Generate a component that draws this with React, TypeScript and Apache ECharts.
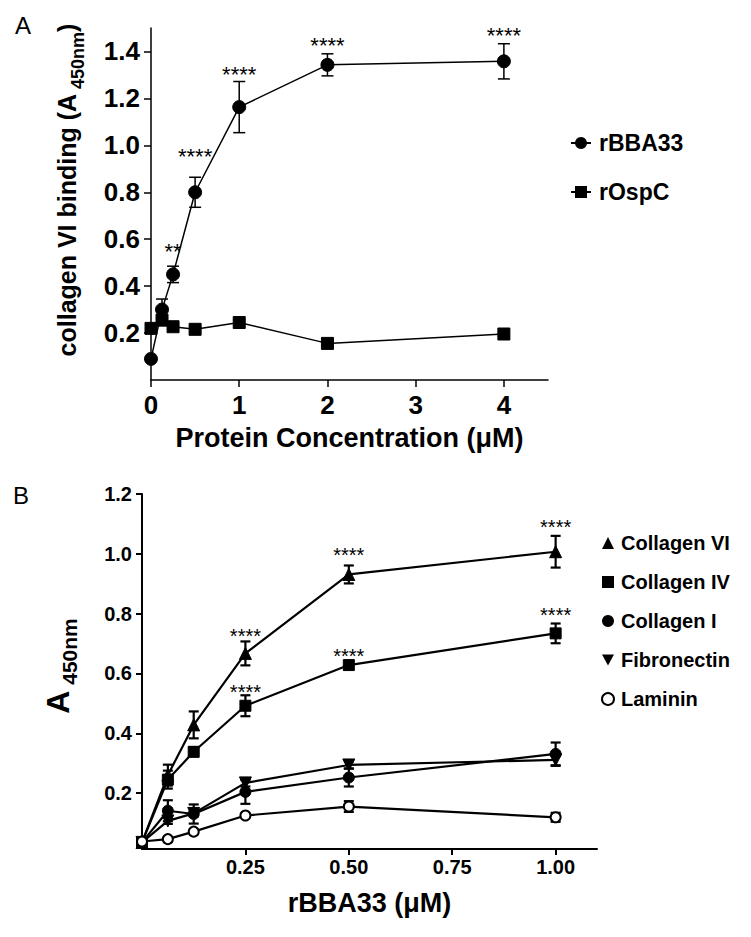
import React, { useEffect, useRef } from 'react';
import * as echarts from 'echarts';

// ---------- Panel A data ----------
const concA = [0, 0.125, 0.25, 0.5, 1, 2, 4];
const bba33 = [0.09, 0.30, 0.45, 0.80, 1.163, 1.343, 1.358];
const bba33Err = [0.005, 0.045, 0.035, 0.064, 0.109, 0.047, 0.075];
const ospC = [0.22, 0.255, 0.227, 0.216, 0.245, 0.156, 0.196];
const ospCErr = [0.01, 0.01, 0.01, 0.01, 0.012, 0.01, 0.01];
const starsAX = [0.25, 0.5, 1, 2, 4];
const starsAY = [0.567, 0.971, 1.322, 1.444, 1.487];
const starsAText = ['**', '****', '****', '****', '****'];
const ticksAX = [0, 1, 2, 3, 4];
const ticksAY = [0.2, 0.4, 0.6, 0.8, 1.0, 1.2, 1.4];

// ---------- Panel B data ----------
const concB = [0, 0.0625, 0.125, 0.25, 0.5, 1];
const col6 = [0.035, 0.26, 0.428, 0.667, 0.931, 1.007];
const col6Err = [0.005, 0.035, 0.045, 0.04, 0.03, 0.053];
const col4 = [0.035, 0.245, 0.338, 0.492, 0.628, 0.734];
const col4Err = [0.005, 0.03, 0.015, 0.035, 0.012, 0.033];
const col1 = [0.035, 0.141, 0.13, 0.204, 0.252, 0.331];
const col1Err = [0.005, 0.035, 0.032, 0.04, 0.03, 0.038];
const fibro = [0.035, 0.107, 0.132, 0.234, 0.294, 0.311];
const fibroErr = [0.005, 0.01, 0.01, 0.012, 0.012, 0.02];
const lamin = [0.038, 0.046, 0.071, 0.125, 0.155, 0.119];
const laminErr = [0.003, 0.005, 0.005, 0.006, 0.018, 0.015];
const starsBX = [0.25, 0.25, 0.5, 0.5, 1, 1];
const starsBY = [0.74, 0.554, 1.01, 0.673, 1.104, 0.809];
const starsBText = ['****', '****', '****', '****', '****', '****'];
const ticksBX = [0.25, 0.5, 0.75, 1.0];
const ticksBY = [0.2, 0.4, 0.6, 0.8, 1.0, 1.2];

const F = '"Liberation Sans", Arial, Helvetica, sans-serif';
const K = '#000';

function errSeries(xs: number[], ys: number[], es: number[], idx: number, cap: number, lw: number) {
  return {
    type: 'custom',
    xAxisIndex: idx,
    yAxisIndex: idx,
    z: 1,
    silent: true,
    data: xs.map((x, i) => [x, ys[i] - es[i], ys[i] + es[i]]),
    renderItem: (params: any, api: any) => {
      const x = api.value(0);
      const lo = api.coord([x, api.value(1)]);
      const hi = api.coord([x, api.value(2)]);
      const st = { stroke: K, lineWidth: lw };
      return {
        type: 'group',
        children: [
          { type: 'line', shape: { x1: lo[0], y1: lo[1], x2: hi[0], y2: hi[1] }, style: st },
          { type: 'line', shape: { x1: hi[0] - cap, y1: hi[1], x2: hi[0] + cap, y2: hi[1] }, style: st },
          { type: 'line', shape: { x1: lo[0] - cap, y1: lo[1], x2: lo[0] + cap, y2: lo[1] }, style: st },
        ],
      };
    },
  };
}

function starSeries(xs: number[], ys: number[], texts: string[], idx: number, fs: number) {
  return {
    type: 'custom',
    xAxisIndex: idx,
    yAxisIndex: idx,
    z: 3,
    silent: true,
    data: xs.map((x, i) => [x, ys[i]]),
    renderItem: (params: any, api: any) => {
      const p = api.coord([api.value(0), api.value(1)]);
      return {
        type: 'text',
        x: p[0],
        y: p[1] + fs * 0.22,
        style: {
          text: texts[params.dataIndex],
          fontSize: fs,
          fontFamily: F,
          fill: K,
          align: 'center',
          verticalAlign: 'middle',
        },
      };
    },
  };
}

function lineSeries(name: string, xs: number[], ys: number[], idx: number, symbol: string, size: number, lw: number, extra: any = {}) {
  return {
    type: 'line',
    name,
    xAxisIndex: idx,
    yAxisIndex: idx,
    z: 2,
    data: xs.map((x, i) => [x, ys[i]]),
    symbol,
    symbolSize: size,
    showAllSymbol: true,
    lineStyle: { color: K, width: lw },
    itemStyle: { color: K, borderColor: K },
    emphasis: { disabled: true },
    ...extra,
  };
}

export default function App() {
  const ref = useRef<HTMLDivElement>(null);

  useEffect(() => {
    if (!ref.current) return;
    const chart = echarts.init(ref.current, undefined, { renderer: 'svg' });

    const axisLineA = { show: true, lineStyle: { color: K, width: 1.5 } };
    const axisLineB = { show: true, lineStyle: { color: K, width: 2 } };

    const option: any = {
      animation: false,
      backgroundColor: '#fff',
      title: [
        { text: 'A', left: 10, top: 8, textStyle: { fontSize: 24, fontWeight: 'normal', fontFamily: F, color: K } },
        { text: 'B', left: 8, top: 478, textStyle: { fontSize: 24, fontWeight: 'normal', fontFamily: F, color: K } },
      ],
      grid: [
        { left: 151, top: 28, width: 397, height: 352 },
        { left: 142, top: 494, width: 455, height: 355 },
      ],
      legend: [
        {
          data: ['rBBA33', 'rOspC'],
          orient: 'vertical',
          left: 565,
          top: 126,
          itemWidth: 20,
          itemHeight: 15,
          itemGap: 25,
          selectedMode: false,
          textStyle: { fontSize: 23, fontWeight: 'bold', fontFamily: F, color: K, lineHeight: 24, padding: [0, 0, 0, 3] },
        },
        {
          data: [
            { name: 'Collagen VI', icon: 'triangle' },
            { name: 'Collagen IV', icon: 'rect' },
            { name: 'Collagen I', icon: 'circle' },
            { name: 'Fibronectin', icon: 'path://M0,0L10,0L5,9Z' },
            { name: 'Laminin', icon: 'emptyCircle' },
          ],
          orient: 'vertical',
          left: 596,
          top: 527,
          itemWidth: 12,
          itemHeight: 12,
          itemGap: 17,
          selectedMode: false,
          textStyle: { fontSize: 20, fontWeight: 'bold', fontFamily: F, color: K, lineHeight: 22, padding: [0, 0, 0, 2] },
        },
      ],
      xAxis: [
        {
          type: 'value',
          gridIndex: 0,
          min: 0,
          max: 4.5,
          axisLine: axisLineA,
          axisTick: { show: true, customValues: ticksAX, length: 7, lineStyle: { color: K, width: 1.5 } },
          axisLabel: { customValues: ticksAX, margin: 12, fontSize: 26, fontWeight: 'bold', fontFamily: F, color: K },
          splitLine: { show: false },
          name: 'Protein Concentration (μM)',
          nameLocation: 'middle',
          nameGap: 44,
          nameTextStyle: { fontSize: 27, fontWeight: 'bold', fontFamily: F, color: K },
        },
        {
          type: 'value',
          gridIndex: 1,
          min: 0,
          max: 1.1,
          axisLine: axisLineB,
          axisTick: { show: true, customValues: ticksBX, length: 6, lineStyle: { color: K, width: 2 } },
          axisLabel: {
            customValues: ticksBX,
            margin: 8,
            fontSize: 20,
            fontWeight: 'bold',
            fontFamily: F,
            color: K,
            formatter: (v: number) => v.toFixed(2),
          },
          splitLine: { show: false },
          name: 'rBBA33 (μM)',
          nameLocation: 'middle',
          nameGap: 40,
          nameTextStyle: { fontSize: 27, fontWeight: 'bold', fontFamily: F, color: K },
        },
      ],
      yAxis: [
        {
          type: 'value',
          gridIndex: 0,
          min: 0,
          max: 1.5,
          axisLine: axisLineA,
          axisTick: { show: true, customValues: ticksAY, length: 7, lineStyle: { color: K, width: 1.5 } },
          axisLabel: {
            customValues: ticksAY,
            margin: 11,
            fontSize: 26,
            fontWeight: 'bold',
            fontFamily: F,
            color: K,
            formatter: (v: number) => v.toFixed(1),
          },
          splitLine: { show: false },
          name: '{m|collagen VI binding (A}{s| 450nm}{m|)}',
          nameLocation: 'middle',
          nameRotate: 90,
          nameGap: 64,
          nameTextStyle: {
            padding: [0, 0, 0, 28],
            rich: {
              m: { fontSize: 25, fontWeight: 'bold', fontFamily: F, color: K, lineHeight: 40 },
              s: { fontSize: 18, fontWeight: 'bold', fontFamily: F, color: K, lineHeight: 20, verticalAlign: 'bottom' },
            },
          },
        },
        {
          type: 'value',
          gridIndex: 1,
          min: 0.013,
          max: 1.2,
          axisLine: axisLineB,
          axisTick: { show: true, customValues: ticksBY, length: 6, lineStyle: { color: K, width: 2 } },
          axisLabel: {
            customValues: ticksBY,
            margin: 10,
            fontSize: 20,
            fontWeight: 'bold',
            fontFamily: F,
            color: K,
            formatter: (v: number) => v.toFixed(1),
          },
          splitLine: { show: false },
          name: '{a|A}{s| 450nm}',
          nameLocation: 'middle',
          nameRotate: 90,
          nameGap: 62,
          nameTextStyle: {
            padding: [0, 0, 0, 11],
            rich: {
              a: { fontSize: 32, fontWeight: 'bold', fontFamily: F, color: K, lineHeight: 44 },
              s: { fontSize: 21, fontWeight: 'bold', fontFamily: F, color: K, lineHeight: 30, verticalAlign: 'bottom' },
            },
          },
        },
      ],
      series: [
        // Panel A
        errSeries(concA, bba33, bba33Err, 0, 6, 1.5),
        errSeries(concA, ospC, ospCErr, 0, 6, 1.5),
        lineSeries('rBBA33', concA, bba33, 0, 'circle', 13, 1.5),
        lineSeries('rOspC', concA, ospC, 0, 'rect', 12, 1.5),
        starSeries(starsAX, starsAY, starsAText, 0, 22),
        // Panel B
        errSeries(concB, col6, col6Err, 1, 5, 2.2),
        errSeries(concB, col4, col4Err, 1, 5, 2.2),
        errSeries(concB, col1, col1Err, 1, 5, 2.2),
        errSeries(concB, fibro, fibroErr, 1, 5, 2.2),
        errSeries(concB, lamin, laminErr, 1, 5, 2.2),
        lineSeries('Collagen VI', concB, col6, 1, 'triangle', 12, 2.2),
        lineSeries('Collagen IV', concB, col4, 1, 'rect', 11, 2.2),
        lineSeries('Collagen I', concB, col1, 1, 'circle', 11, 2.2),
        lineSeries('Fibronectin', concB, fibro, 1, 'triangle', 12, 2.2, { symbolRotate: 180 }),
        lineSeries('Laminin', concB, lamin, 1, 'emptyCircle', 10, 2.2, {
          itemStyle: { color: K, borderColor: K, borderWidth: 2 },
        }),
        starSeries(starsBX, starsBY, starsBText, 1, 20),
      ],
    };

    chart.setOption(option);
    return () => chart.dispose();
  }, []);

  return (
    <div
      ref={ref}
      style={{ position: 'absolute', left: 0, top: 0, width: 751, height: 937, background: '#fff' }}
    />
  );
}
